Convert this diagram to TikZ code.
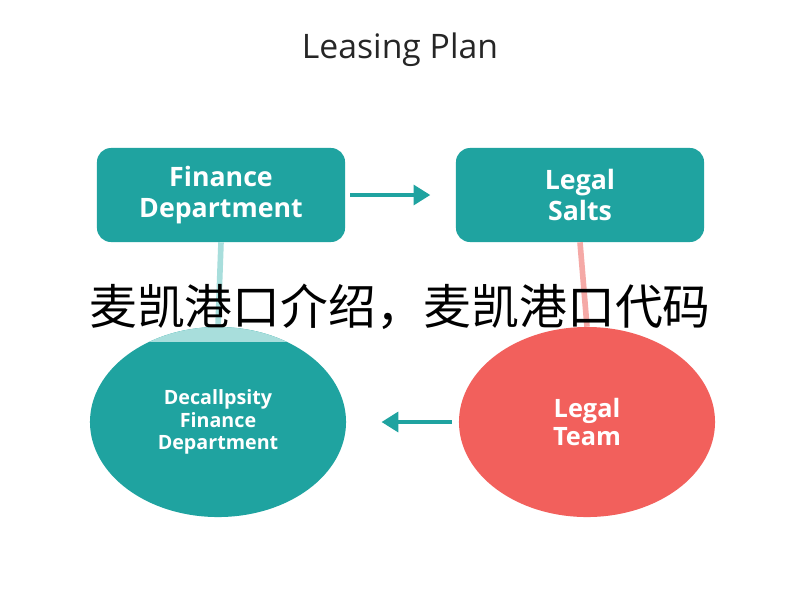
\documentclass[tikz,border=0pt]{standalone}
\usepackage{fontspec}
\setmainfont{Open Sans}
\newfontfamily\cjk{Noto Sans CJK SC}
\usetikzlibrary{positioning,arrows.meta}
\definecolor{tealbox}{HTML}{1FA3A0}
\definecolor{tealpale}{HTML}{A8DEDC}
\definecolor{redbox}{HTML}{F2605C}
\definecolor{redpale}{HTML}{F5A9A6}
\tikzset{
  box/.style={rectangle,rounded corners=10pt,fill=tealbox,text=white,
    minimum width=6.2cm,minimum height=2.35cm,align=center,
    font=\bfseries\fontsize{19}{22}\selectfont},
  blob/.style={ellipse,minimum width=6.4cm,minimum height=4.75cm,
    text=white,align=center},
  link/.style={line width=3.5pt,-{Triangle[length=12pt,width=14pt]}},
}
\usetikzlibrary{shapes.geometric}
\begin{document}
\begin{tikzpicture}[x=0.025cm,y=-0.025cm]
   \useasboundingbox[fill=white] (0,0) rectangle (800,600);
   \node[font=\fontsize{24}{28}\selectfont,text=black!85] (title) at (400,50) {Leasing Plan};
   \node[box] (fin) at (221,195) {Finance\\Department};
   \node[box] (legal) at (580,195) {Legal\\Salts};
   \node[blob,fill=tealbox,font=\bfseries\fontsize{14}{16}\selectfont] (dec) at (218,422)
     {Decallpsity\\Finance\\Department};
   \node[blob,fill=redbox,font=\bfseries\fontsize{18}{20}\selectfont] (team) at (587,422)
     {Legal\\Team};
   % pale tops of the circles
   \begin{scope}
     \clip (218,422) ellipse (128 and 95);
     \fill[tealpale] (80,320) rectangle (360,342);
   \end{scope}
   \draw[tealpale,line width=4pt] (fin.south) -- (dec.north);
   \draw[redpale,line width=4pt] (legal.south) -- (team.north);
   \draw[link,tealbox] (fin.east) ++(5,0) coordinate (a1) -- ([xshift=-18pt]legal.west);
   \draw[link,tealbox] ([xshift=-5pt]team.west) -- ([xshift=25pt]dec.east);
   \node[font=\cjk\fontsize{34}{36}\selectfont,text=black] (mark) at (400,307)
     {麦凯港口介绍，麦凯港口代码};
\end{tikzpicture}
\end{document}
